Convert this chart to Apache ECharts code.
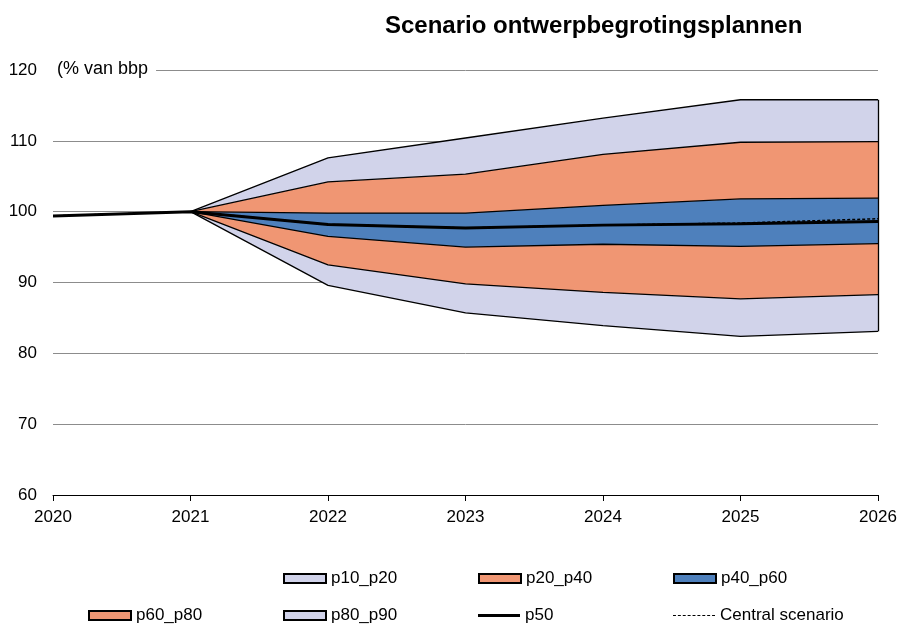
<!DOCTYPE html>
<html>
<head>
<meta charset="utf-8">
<script src="https://cdn.jsdelivr.net/npm/echarts@6/dist/echarts.min.js"></script>
<style>html,body{margin:0;padding:0;background:#fff}#chart{width:901px;height:625px}</style>
</head>
<body>
<div id="chart"></div>
<script>
const categories = ['2020', '2021', '2022', '2023', '2024', '2025', '2026'];
const p10 = [null, 100, 89.6, 85.7, 83.9, 82.4, 83.1];
const p20 = [null, 100, 92.5, 89.8, 88.6, 87.7, 88.3];
const p40 = [null, 100, 96.5, 95.0, 95.4, 95.1, 95.5];
const p60 = [null, 100, 99.8, 99.8, 100.9, 101.8, 101.9];
const p80 = [null, 100, 104.2, 105.3, 108.1, 109.8, 109.9];
const p90 = [null, 100, 107.6, 110.4, 113.2, 115.8, 115.8];
const p50 = [99.4, 100, 98.2, 97.7, 98.1, 98.3, 98.6];
const central = [99.4, 100, 98.2, 97.7, 98.1, 98.4, 99.0];
const yTicks = [60, 70, 80, 90, 100, 110, 120];
const legendRow1 = ['p10_p20', 'p20_p40', 'p40_p60'];
const legendRow2 = ['p60_p80', 'p80_p90', 'p50', 'Central scenario'];

const lavender = '#D1D3EA';
const orange = '#F09673';
const blue = '#4E80BC';
const FONT = 'Liberation Sans, Arial, sans-serif';

function diff(a, b) {
  return a.map((v, i) => (v == null || b[i] == null) ? null : +(v - b[i]).toFixed(3));
}

function band(name, data, color) {
  return {
    name: name, type: 'line', stack: 'fan', data: data,
    symbol: 'none', z: 2,
    lineStyle: { color: '#000', width: 1.3 },
    itemStyle: { color: color, borderColor: '#000', borderWidth: 1 },
    areaStyle: { color: color, opacity: 1 }
  };
}

// dashed icon path for the central scenario legend
let dashPath = 'path://';
for (let x = 0; x < 42; x += 5) dashPath += 'M' + x + ',0h3v1h-3z';

function legendItem(name, left, top) {
  const base = {
    left: left, top: top, padding: 0, itemWidth: 42, itemHeight: 9,
    textStyle: { fontSize: 17, color: '#000', fontFamily: FONT },
    data: [name], icon: 'rect'
  };
  if (name === 'p50') { base.itemHeight = 3; base.itemStyle = { borderWidth: 0 }; }
  if (name === 'Central scenario') { base.icon = dashPath; base.itemHeight = 1.5; base.itemStyle = { borderWidth: 0 }; }
  return base;
}

const colX = [88, 283, 478, 673];
const legends = [];
legendRow1.forEach((n, i) => legends.push(legendItem(n, colX[i + 1], 570)));
legendRow2.forEach((n, i) => legends.push(legendItem(n, colX[i], 607)));

const last = categories.length - 1;
const chart = echarts.init(document.getElementById('chart'), null, { renderer: 'canvas' });
chart.setOption({
  animation: false,
  textStyle: { fontFamily: FONT, color: '#000' },
  title: [
    { text: 'Scenario ontwerpbegrotingsplannen', left: 385, top: 14, padding: 0,
      textStyle: { fontSize: 24, fontWeight: 'bold', color: '#000', fontFamily: FONT } },
    { text: '(% van bbp', left: 53, top: 59, padding: [1, 8, 1, 4], backgroundColor: '#fff',
      textStyle: { fontSize: 18, fontWeight: 'normal', color: '#000', fontFamily: FONT }, z: 10 }
  ],
  grid: { left: 53, right: 23, top: 70, bottom: 130, containLabel: false },
  xAxis: {
    type: 'category', data: categories, boundaryGap: false,
    axisLine: { lineStyle: { color: '#000', width: 1 } },
    axisTick: { show: true, length: 6, lineStyle: { color: '#000' } },
    axisLabel: { fontSize: 17, color: '#000', margin: 14 },
    splitLine: { show: false }
  },
  yAxis: {
    type: 'value', min: yTicks[0], max: yTicks[yTicks.length - 1], interval: 10,
    axisLine: { show: false }, axisTick: { show: false },
    axisLabel: { fontSize: 17, color: '#000', margin: 16 },
    splitLine: { lineStyle: { color: '#8c8c8c', width: 1 } }
  },
  legend: legends,
  series: [
    { name: 'base', type: 'line', stack: 'fan', data: p10, symbol: 'none', z: 2,
      lineStyle: { color: '#000', width: 1.3 } },
    band('p10_p20', diff(p20, p10), lavender),
    band('p20_p40', diff(p40, p20), orange),
    band('p40_p60', diff(p60, p40), blue),
    band('p60_p80', diff(p80, p60), orange),
    Object.assign(band('p80_p90', diff(p90, p80), lavender), {
      markLine: {
        silent: true, symbol: 'none', label: { show: false },
        lineStyle: { color: '#000', width: 1.3, type: 'solid' },
        data: [[{ coord: [categories[last], p10[last]] }, { coord: [categories[last], p90[last]] }]]
      }
    }),
    { name: 'p50', type: 'line', data: p50, symbol: 'none', z: 4,
      lineStyle: { color: '#000', width: 3 }, itemStyle: { color: '#000' } },
    { name: 'Central scenario', type: 'line', data: central, symbol: 'none', z: 5,
      lineStyle: { color: '#000', width: 1.5, type: [3, 2] }, itemStyle: { color: '#000' } }
  ]
});
</script>
</body>
</html>
